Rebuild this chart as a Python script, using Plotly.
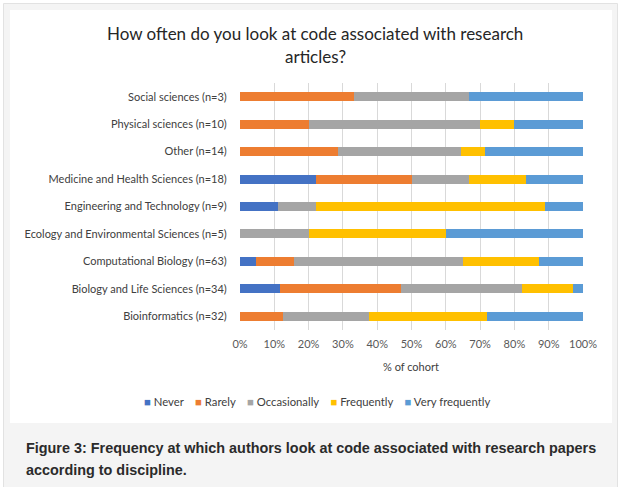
import plotly.graph_objects as go

# ---- data ----
categories = [
    "Social sciences (n=3)",
    "Physical sciences (n=10)",
    "Other (n=14)",
    "Medicine and Health Sciences (n=18)",
    "Engineering and Technology (n=9)",
    "Ecology and Environmental Sciences (n=5)",
    "Computational Biology (n=63)",
    "Biology and Life Sciences (n=34)",
    "Bioinformatics (n=32)",
]
cohort_n = [3, 10, 14, 18, 9, 5, 63, 34, 32]
series_names = ["Never", "Rarely", "Occasionally", "Frequently", "Very frequently"]
never = [0, 0, 0, 4, 1, 0, 3, 4, 0]
rarely = [1, 2, 4, 5, 0, 0, 7, 12, 4]
occasionally = [1, 5, 5, 3, 1, 1, 31, 12, 8]
frequently = [0, 1, 1, 3, 6, 2, 14, 5, 11]
very_frequently = [1, 2, 4, 3, 1, 2, 8, 1, 9]
x_tick_values = [0, 10, 20, 30, 40, 50, 60, 70, 80, 90, 100]
x_tick_labels = ["0%", "10%", "20%", "30%", "40%", "50%", "60%", "70%", "80%", "90%", "100%"]

colors = ["#4472C4", "#ED7D31", "#A5A5A5", "#FFC000", "#5B9BD5"]
counts = [never, rarely, occasionally, frequently, very_frequently]

W, H = 623, 487
L, R, T, B = 240, 583, 83, 330


def px(x):
    return (x - L) / (R - L)


def py(y):
    return (B - y) / (B - T)


fig = go.Figure()
for name, col, vals in zip(series_names, colors, counts):
    pct = [v / n * 100 for v, n in zip(vals, cohort_n)]
    fig.add_trace(go.Bar(
        y=categories, x=pct, name=name, orientation="h",
        marker=dict(color=col, line=dict(width=0)),
        showlegend=False,
    ))

label_font = "Lato, 'Open Sans', sans-serif"
cap_font = "'Liberation Sans', Arial, sans-serif"
fig.update_layout(
    width=W, height=H,
    margin=dict(l=L, r=W - R, t=T, b=H - B, pad=0),
    paper_bgcolor="white", plot_bgcolor="rgba(0,0,0,0)",
    barmode="stack", bargap=0.67,
    font=dict(family=label_font, size=11, color="#404040"),
    xaxis=dict(
        range=[0, 100], tickvals=x_tick_values, ticktext=x_tick_labels,
        showgrid=True, gridcolor="#D9D9D9", gridwidth=1, zeroline=False,
        showline=False, ticks="outside", ticklen=4, tickcolor="rgba(0,0,0,0)",
        tickfont=dict(size=11, color="#595959"), fixedrange=True,
    ),
    yaxis=dict(
        autorange="reversed", showgrid=False, zeroline=False, showline=False,
        ticks="outside", ticklen=10, tickcolor="rgba(0,0,0,0)",
        tickfont=dict(size=11, color="#404040"), fixedrange=True,
    ),
    shapes=[
        dict(type="rect", xref="paper", yref="paper", layer="below",
             x0=px(3.5), x1=px(617.5), y0=py(3.5), y1=py(495),
             fillcolor="#F4F4F4", line=dict(color="#E2E2E2", width=1)),
        dict(type="rect", xref="paper", yref="paper", layer="below",
             x0=px(10), x1=px(612), y0=py(10), y1=py(423),
             fillcolor="white", line=dict(width=0)),
    ],
)

legend_text = "    ".join(
    f"<span style='color:{c}'>■</span> {n}" for n, c in zip(series_names, colors)
)

annotations = [
    dict(text="How often do you look at code associated with research", x=px(315), y=py(33),
         font=dict(size=17, color="#262626", family=label_font)),
    dict(text="articles?", x=px(315), y=py(57),
         font=dict(size=17, color="#262626", family=label_font)),
    dict(text="% of cohort", x=px(411), y=py(366),
         font=dict(size=11, color="#404040", family=label_font)),
    dict(text=legend_text, x=px(317), y=py(401),
         font=dict(size=11.3, color="#404040", family=label_font)),
    dict(text="<b>Figure 3: Frequency at which authors look at code associated with research papers</b>",
         x=px(24), y=py(448), xanchor="left",
         font=dict(size=14.4, color="#2B2B2B", family=cap_font)),
    dict(text="<b>according to discipline.</b>",
         x=px(24), y=py(470), xanchor="left",
         font=dict(size=14.4, color="#2B2B2B", family=cap_font)),
]
for a in annotations:
    a.setdefault("xanchor", "center")
    a.update(xref="paper", yref="paper", yanchor="middle", showarrow=False)
fig.update_layout(annotations=annotations)

fig.write_html(
    "out.html",
    config={"displayModeBar": False, "staticPlot": True},
    post_script="document.body.style.margin='0';document.body.style.padding='0';",
)
